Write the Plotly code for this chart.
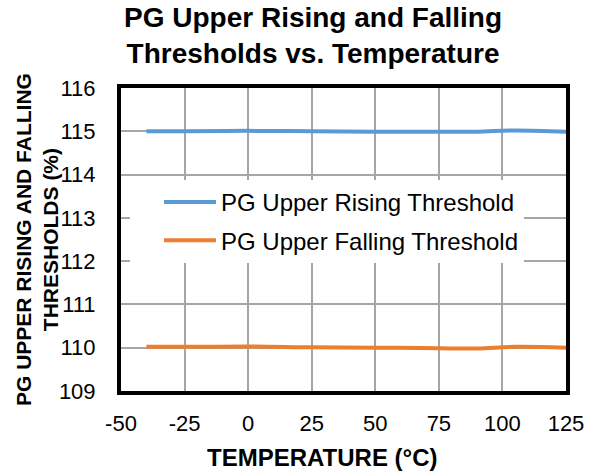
import plotly.graph_objects as go

temps = [-40, -25, 0, 25, 50, 75, 90, 105, 125]
rising = [115.0, 115.0, 115.01, 115.0, 114.99, 114.99, 114.99, 115.02, 114.99]
falling = [110.02, 110.02, 110.03, 110.01, 110.0, 109.99, 109.98, 110.02, 110.0]
x_ticks = [-50, -25, 0, 25, 50, 75, 100, 125]
y_ticks = [109, 110, 111, 112, 113, 114, 115, 116]

FONT = "Liberation Sans, Arial, sans-serif"
L, R, T, B = 121, 29, 88, 83
PW, PH = 595 - L - R, 474 - T - B

fig = go.Figure()
fig.add_trace(go.Scatter(x=temps, y=rising, mode="lines", name="PG Upper Rising Threshold",
                         line=dict(color="#5B9BD5", width=4, shape="spline"), legendgroup="a"))
fig.add_trace(go.Scatter(x=temps, y=falling, mode="lines", name="PG Upper Falling Threshold",
                         line=dict(color="#ED7D31", width=4, shape="spline"), legendgroup="b"))

fig.update_layout(
    width=595, height=474,
    margin=dict(l=L, r=R, t=T, b=B),
    paper_bgcolor="white", plot_bgcolor="white",
    font=dict(family=FONT, size=22, color="black"),
    showlegend=True,
    legend=dict(x=(130 - L) / PW, y=(391 - 180) / PH, xanchor="left", yanchor="top",
                bgcolor="white", font=dict(size=24, family=FONT), indentation=29,
                traceorder="grouped", tracegroupgap=4, itemwidth=52),
    xaxis=dict(range=[-50, 125], tickvals=x_ticks, ticktext=[str(v) for v in x_ticks],
               showgrid=True, gridcolor="#A6A6A6", gridwidth=1.5,
               showline=True, linecolor="black", linewidth=4, mirror=True,
               ticks="", zeroline=False, tickfont=dict(size=22), ticklabelstandoff=10),
    yaxis=dict(range=[109, 116], tickvals=y_ticks, ticktext=[str(v) for v in y_ticks],
               showgrid=True, gridcolor="#A6A6A6", gridwidth=1.5,
               showline=True, linecolor="black", linewidth=4, mirror=True,
               ticks="", zeroline=False, tickfont=dict(size=22), ticklabelstandoff=17),
)

# chart title
fig.add_annotation(text="<b>PG Upper Rising and Falling<br>Thresholds vs. Temperature</b>",
                   xref="paper", yref="paper", x=(313 - L) / PW, y=(391 - 36) / PH,
                   xanchor="center", yanchor="middle", showarrow=False,
                   font=dict(size=28, family=FONT, color="black"))
# x axis title
fig.add_annotation(text="<b>TEMPERATURE (°C)</b>",
                   xref="paper", yref="paper", x=(322 - L) / PW, y=(391 - 458) / PH,
                   xanchor="center", yanchor="middle", showarrow=False,
                   font=dict(size=24, family=FONT, color="black"))
# y axis title
fig.add_annotation(text="<b>PG UPPER RISING AND FALLING<br>THRESHOLDS (%)</b>",
                   xref="paper", yref="paper", x=(37 - L) / PW, y=(391 - 240) / PH,
                   xanchor="center", yanchor="middle",
                   textangle=-90, showarrow=False, font=dict(size=21, family=FONT, color="black"))

fig.write_html("out.html", config={"displayModeBar": False},
               post_script="document.body.style.margin='0';document.body.style.overflow='hidden';")
